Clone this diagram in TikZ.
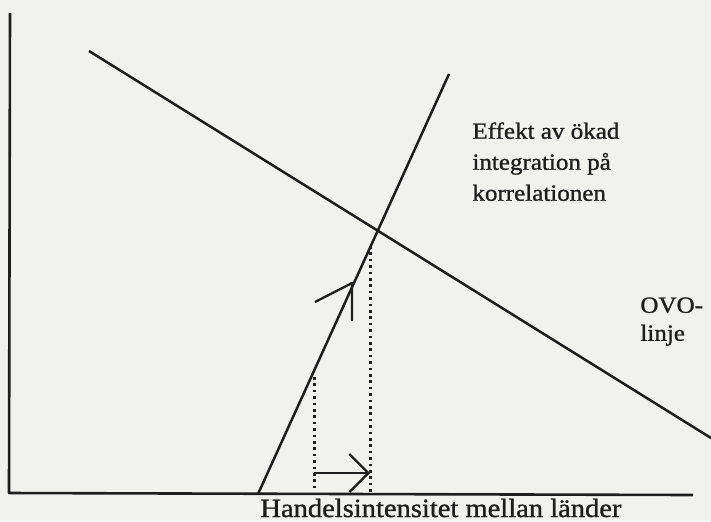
\documentclass[tikz,border=0pt]{standalone}
\usepackage{fontspec}
\setmainfont{Liberation Serif}[FakeStretch=1.08, FakeBold=1.1]
\usepackage{tikz}
\usetikzlibrary{arrows.meta, positioning, calc}
\usepackage{xcolor}
\definecolor{paper}{HTML}{F1F1EE}
\definecolor{ink}{HTML}{1E1E1E}

\begin{document}
\begin{tikzpicture}[x=0.5pt, y=-0.5pt, line join=round,
    axisline/.style={ink, line width=1.3pt},
    curveline/.style={ink, line width=1.25pt},
    dotline/.style={ink, line width=1.5pt, dash pattern=on 1.3pt off 1.9pt},
    shiftarrow/.style={ink, line width=1.15pt},
    label/.style={ink, inner sep=0pt, align=left}]
      \fill[paper] (0,0) rectangle (711,521);
      \useasboundingbox (0,0) rectangle (711,521);

      % axes
      \coordinate (ytop) at (10,13);
      \coordinate (origin) at (9,493);
      \coordinate (xend) at (693,495);
      \draw[axisline] (ytop) -- (origin) -- (xend);

      % OVO-line and integration line
      \coordinate (ovoA) at (89,51);
      \coordinate (ovoB) at (711,438);
      \coordinate (intA) at (258,494);
      \coordinate (intB) at (449,74);
      \draw[curveline] (ovoA) -- (ovoB);
      \draw[curveline] (intA) -- (intB);

      % dotted guides
      \coordinate (dotLtop) at (314,377);
      \coordinate (dotLbot) at (314,490);
      \coordinate (dotRtop) at (370,246);
      \coordinate (dotRbot) at (370,492);
      \draw[dotline] (dotLtop) -- (dotLbot);
      \draw[dotline] (dotRtop) -- (dotRbot);

      % shift arrows
      \coordinate (hStart) at (314,473);
      \coordinate (hTip) at (370,473);
      \draw[shiftarrow, -{Straight Barb[length=9.5pt, width=19pt]}] (hStart) -- (hTip);
      \coordinate (vStart) at (352,321);
      \coordinate (vTip) at (352,283);
      \coordinate (vBarb) at (315,302);
      \draw[shiftarrow] (vStart) -- (vTip) -- (vBarb);

      % labels
      \node[label, anchor=north west, font=\fontsize{11.6}{15.5}\selectfont]
        (effekt) at (472,122) {Effekt av ökad\\integration på\\korrelationen};
      \node[label, anchor=north west, font=\fontsize{11.6}{14}\selectfont]
        (ovo) at (640,297) {OVO-\\linje};
      \node[label, anchor=base west, font=\fontsize{13.2}{15}\selectfont]
        (xlabel) at (260,517) {Handelsintensitet mellan länder};
    \end{tikzpicture}
\end{document}
